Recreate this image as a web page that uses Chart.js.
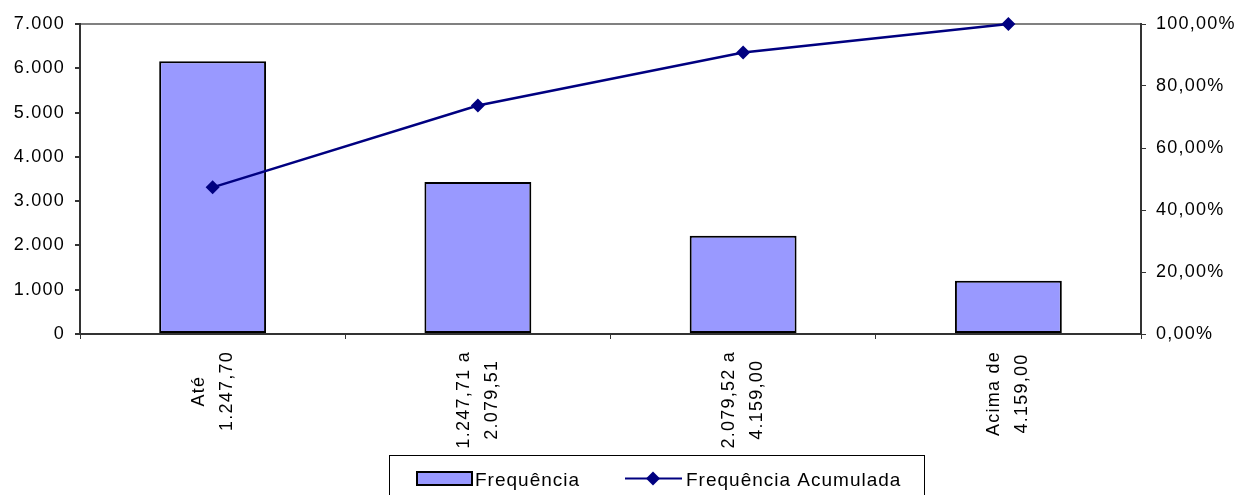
<!DOCTYPE html>
<html>
<head>
<meta charset="utf-8">
<script src="https://cdn.jsdelivr.net/npm/chart.js@4.4.1/dist/chart.umd.min.js"></script>
<style>
  html, body { margin: 0; padding: 0; background: #fff; }
  #wrap { width: 1240px; height: 495px; }
</style>
</head>
<body>
<div id="wrap"><canvas id="myChart"></canvas></div>
<script>
// categories (faixas de valor), each one split in two lines
const categories = [
    ['Até', '1.247,70'],
    ['1.247,71 a', '2.079,51'],
    ['2.079,52 a', '4.159,00'],
    ['Acima de', '4.159,00']
];
// Frequência
const frequencia = [6160, 3430, 2220, 1200];
// Frequência Acumulada in %
const acumulada = [47.3, 73.7, 90.8, 100];
// tick settings
const leftMax = 7000, leftStep = 1000;
const rightMax = 100, rightStep = 20;

const FONT = '"Liberation Sans", Arial, sans-serif';
const AXIS = '#333333';
const SPACING = '1.25px';

function fmtThousands(v) {
    return String(v).replace(/\B(?=(\d{3})+(?!\d))/g, '.');
}
function fmtPercent(v) {
    return v.toFixed(2).replace('.', ',') + '%';
}

// letter spacing like the old excel rendering
const spacingPlugin = {
    id: 'spacing',
    beforeUpdate(chart) { chart.ctx.letterSpacing = SPACING; },
    beforeDraw(chart) { chart.ctx.letterSpacing = SPACING; }
};

// category labels: rotated, lines centered like in the original
const xLabelsPlugin = {
    id: 'xLabels',
    afterDraw(chart) {
        const ctx = chart.ctx;
        const xs = chart.scales.x;
        ctx.save();
        ctx.font = '18px ' + FONT;
        ctx.letterSpacing = SPACING;
        ctx.fillStyle = '#000';
        ctx.textAlign = 'center';
        ctx.textBaseline = 'middle';
        const top = chart.chartArea.bottom + 17;
        categories.forEach((lines, i) => {
            const cx = xs.getPixelForValue(i);
            const maxW = Math.max(...lines.map(l => ctx.measureText(l).width));
            const cy = top + maxW / 2;
            lines.forEach((line, j) => {
                const off = (j - (lines.length - 1) / 2) * 28;
                ctx.save();
                ctx.translate(cx + off, cy);
                ctx.rotate(-Math.PI / 2);
                ctx.fillText(line, 0, 0);
                ctx.restore();
            });
        });
        ctx.restore();
    }
};

// boxed legend at the bottom
const legendPlugin = {
    id: 'boxLegend',
    afterDraw(chart) {
        const ctx = chart.ctx;
        const bars = chart.data.datasets.find(d => d.type === 'bar');
        const line = chart.data.datasets.find(d => d.type === 'line');
        ctx.save();
        ctx.strokeStyle = '#000';
        ctx.lineWidth = 1;
        ctx.strokeRect(389.5, 455.5, 535, 60);

        // bar symbol
        ctx.fillStyle = bars.backgroundColor;
        ctx.fillRect(416, 471, 57, 15);
        ctx.lineWidth = 2;
        ctx.strokeStyle = '#000';
        ctx.strokeRect(417, 472, 55, 13);

        // line symbol
        const ly = 478.5;
        ctx.strokeStyle = line.borderColor;
        ctx.lineWidth = 2;
        ctx.beginPath();
        ctx.moveTo(625, ly);
        ctx.lineTo(682, ly);
        ctx.stroke();
        ctx.fillStyle = line.borderColor;
        ctx.beginPath();
        ctx.moveTo(653, ly - 7); ctx.lineTo(660, ly); ctx.lineTo(653, ly + 7); ctx.lineTo(646, ly);
        ctx.closePath();
        ctx.fill();

        ctx.font = '19px ' + FONT;
        ctx.letterSpacing = '1px';
        ctx.fillStyle = '#000';
        ctx.textAlign = 'left';
        ctx.textBaseline = 'alphabetic';
        ctx.fillText(bars.label, 475, 486);
        ctx.fillText(line.label, 686, 486);
        ctx.restore();
    }
};

const ctx = document.getElementById('myChart').getContext('2d');
const myChart = new Chart(ctx, {
    type: 'bar',
    data: {
        labels: categories,
        datasets: [{
            type: 'line',
            label: 'Frequência Acumulada',
            data: acumulada,
            yAxisID: 'y1',
            borderColor: '#000080',
            backgroundColor: '#000080',
            borderWidth: 2.5,
            pointStyle: 'rectRot',
            pointRadius: 7,
            pointBackgroundColor: '#000080',
            pointBorderWidth: 0,
            tension: 0,
            clip: false,
            order: 0
        }, {
            type: 'bar',
            label: 'Frequência',
            data: frequencia,
            yAxisID: 'y',
            backgroundColor: '#9999FF',
            borderColor: '#000000',
            borderWidth: 2,
            borderSkipped: false,
            barPercentage: 0.403,
            categoryPercentage: 1,
            order: 1
        }]
    },
    options: {
        responsive: true,
        maintainAspectRatio: false,
        animation: false,
        layout: { padding: { top: 24, left: 0, right: 0, bottom: 0 } },
        plugins: {
            legend: { display: false },
            tooltip: { enabled: false }
        },
        scales: {
            x: {
                offset: true,
                grid: { offset: true, drawOnChartArea: false, drawTicks: true, tickLength: 5, tickColor: AXIS },
                border: { color: AXIS, width: 2 },
                ticks: { display: false },
                afterFit: s => { s.height = 161; }
            },
            y: {
                position: 'left',
                min: 0,
                max: leftMax,
                grid: {
                    drawOnChartArea: true,
                    color: c => (c.tick && c.tick.value === leftMax) ? '#808080' : 'rgba(0,0,0,0)',
                    lineWidth: 2,
                    tickLength: 5,
                    tickColor: AXIS
                },
                border: { color: AXIS, width: 2 },
                ticks: {
                    stepSize: leftStep,
                    padding: 10,
                    color: '#000',
                    font: { family: FONT, size: 18 },
                    callback: v => fmtThousands(v)
                },
                afterFit: s => { s.width = 80; }
            },
            y1: {
                position: 'right',
                min: 0,
                max: rightMax,
                grid: { drawOnChartArea: false, tickLength: 5, tickColor: AXIS },
                border: { color: AXIS, width: 2 },
                ticks: {
                    stepSize: rightStep,
                    padding: 10,
                    color: '#000',
                    font: { family: FONT, size: 18 },
                    callback: v => fmtPercent(v)
                },
                afterFit: s => { s.width = 99; }
            }
        }
    },
    plugins: [spacingPlugin, xLabelsPlugin, legendPlugin]
});
</script>
</body>
</html>
